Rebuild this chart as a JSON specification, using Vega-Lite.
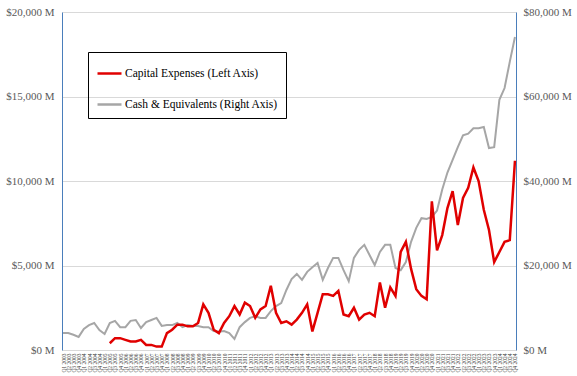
{
"$schema": "https://vega.github.io/schema/vega-lite/v6.json",
"width": 454, "height": 338,
"autosize": {"type": "none"},
"padding": {"left": 62, "top": 12, "right": 61, "bottom": 26},
"background": "white",
"config": {"font": "Liberation Serif", "view": {"stroke": null}},
"data": {"values": [
{"q":"Q1 2003","capex":null,"cash":4000},{"q":"Q2 2003","capex":null,"cash":4000},{"q":"Q3 2003","capex":null,"cash":3600},{"q":"Q4 2003","capex":null,"cash":3100},
{"q":"Q1 2004","capex":null,"cash":5000},{"q":"Q2 2004","capex":null,"cash":5900},{"q":"Q3 2004","capex":null,"cash":6400},{"q":"Q4 2004","capex":null,"cash":4700},
{"q":"Q1 2005","capex":null,"cash":3800},{"q":"Q2 2005","capex":400,"cash":6400},{"q":"Q3 2005","capex":700,"cash":6900},{"q":"Q4 2005","capex":700,"cash":5400},
{"q":"Q1 2006","capex":600,"cash":5400},{"q":"Q2 2006","capex":500,"cash":6900},{"q":"Q3 2006","capex":500,"cash":7100},{"q":"Q4 2006","capex":600,"cash":5200},
{"q":"Q1 2007","capex":300,"cash":6600},{"q":"Q2 2007","capex":300,"cash":7100},{"q":"Q3 2007","capex":200,"cash":7600},{"q":"Q4 2007","capex":200,"cash":5700},
{"q":"Q1 2008","capex":1000,"cash":5900},{"q":"Q2 2008","capex":1200,"cash":5900},{"q":"Q3 2008","capex":1500,"cash":6400},{"q":"Q4 2008","capex":1500,"cash":5400},
{"q":"Q1 2009","capex":1400,"cash":5900},{"q":"Q2 2009","capex":1400,"cash":5700},{"q":"Q3 2009","capex":1600,"cash":5700},{"q":"Q4 2009","capex":2700,"cash":5400},
{"q":"Q1 2010","capex":2200,"cash":5400},{"q":"Q2 2010","capex":1200,"cash":4500},{"q":"Q3 2010","capex":1000,"cash":4300},{"q":"Q4 2010","capex":1600,"cash":4500},
{"q":"Q1 2011","capex":2000,"cash":4000},{"q":"Q2 2011","capex":2600,"cash":2600},{"q":"Q3 2011","capex":2100,"cash":5400},{"q":"Q4 2011","capex":2800,"cash":6600},
{"q":"Q1 2012","capex":2600,"cash":7600},{"q":"Q2 2012","capex":1900,"cash":8000},{"q":"Q3 2012","capex":2400,"cash":7600},{"q":"Q4 2012","capex":2600,"cash":7600},
{"q":"Q1 2013","capex":3800,"cash":9200},{"q":"Q2 2013","capex":2200,"cash":10400},{"q":"Q3 2013","capex":1600,"cash":11100},{"q":"Q4 2013","capex":1700,"cash":14200},
{"q":"Q1 2014","capex":1500,"cash":16800},{"q":"Q2 2014","capex":1800,"cash":18000},{"q":"Q3 2014","capex":2200,"cash":16600},{"q":"Q4 2014","capex":2700,"cash":18500},
{"q":"Q1 2015","capex":1100,"cash":19600},{"q":"Q2 2015","capex":2200,"cash":20600},{"q":"Q3 2015","capex":3300,"cash":16600},{"q":"Q4 2015","capex":3300,"cash":19400},
{"q":"Q1 2016","capex":3200,"cash":21800},{"q":"Q2 2016","capex":3500,"cash":21800},{"q":"Q3 2016","capex":2100,"cash":18900},{"q":"Q4 2016","capex":2000,"cash":16300},
{"q":"Q1 2017","capex":2500,"cash":21800},{"q":"Q2 2017","capex":1800,"cash":23700},{"q":"Q3 2017","capex":2100,"cash":24900},{"q":"Q4 2017","capex":2200,"cash":22500},
{"q":"Q1 2018","capex":2000,"cash":20100},{"q":"Q2 2018","capex":4000,"cash":23200},{"q":"Q3 2018","capex":2500,"cash":24900},{"q":"Q4 2018","capex":3700,"cash":24900},
{"q":"Q1 2019","capex":3200,"cash":19400},{"q":"Q2 2019","capex":5800,"cash":18900},{"q":"Q3 2019","capex":6400,"cash":20800},{"q":"Q4 2019","capex":4800,"cash":25600},
{"q":"Q1 2020","capex":3600,"cash":28900},{"q":"Q2 2020","capex":3200,"cash":31200},{"q":"Q3 2020","capex":3000,"cash":31000},{"q":"Q4 2020","capex":8800,"cash":31500},
{"q":"Q1 2021","capex":5900,"cash":33000},{"q":"Q2 2021","capex":6800,"cash":38000},{"q":"Q3 2021","capex":8400,"cash":42000},{"q":"Q4 2021","capex":9400,"cash":45000},
{"q":"Q1 2022","capex":7400,"cash":48000},{"q":"Q2 2022","capex":9000,"cash":50800},{"q":"Q3 2022","capex":9600,"cash":51200},{"q":"Q4 2022","capex":10800,"cash":52500},
{"q":"Q1 2023","capex":10000,"cash":52500},{"q":"Q2 2023","capex":8300,"cash":52800},{"q":"Q3 2023","capex":7100,"cash":47800},{"q":"Q4 2023","capex":5200,"cash":48000},
{"q":"Q1 2024","capex":5800,"cash":59200},{"q":"Q2 2024","capex":6400,"cash":62000},{"q":"Q3 2024","capex":6500,"cash":68200},{"q":"Q4 2024","capex":11200,"cash":74100}
]},
"encoding": {
  "x": {"field": "q", "type": "ordinal", "sort": null,
        "scale": {"type": "point", "padding": 0.2},
        "axis": {"title": null, "labelAngle": -90, "labelFontSize": 5.5, "labelColor": "#404040",
                 "ticks": false, "domain": false, "labelPadding": 3, "labelOverlap": false, "labelFont": "Liberation Serif"}}
},
"layer": [
  {"mark": {"type": "line", "strokeWidth": 2},
   "encoding": {
     "y": {"field": "cash", "type": "quantitative", "scale": {"domain": [0, 80000]},
           "axis": {"orient": "right", "title": null, "values": [0, 20000, 40000, 60000, 80000],
                    "labelExpr": "'$' + format(datum.value, ',') + ' M'", "grid": false, "ticks": false,
                    "domainColor": "#4A7EBB", "domainWidth": 1, "labelFontSize": 11, "labelColor": "#595959", "labelPadding": 7}},
     "color": {"datum": "Cash & Equivalents (Right Axis)", "type": "nominal",
               "scale": {"domain": ["Capital Expenses (Left Axis)", "Cash & Equivalents (Right Axis)"], "range": ["#E00000", "#A6A6A6"]},
               "legend": {"title": null, "orient": "none", "legendX": 26, "legendY": 40, "direction": "vertical",
                          "strokeColor": "black", "padding": 8, "symbolType": "stroke", "symbolSize": 576, "symbolStrokeWidth": 2.5,
                          "labelFontSize": 11.5, "labelColor": "black", "labelFont": "Liberation Serif", "rowPadding": 12, "labelOffset": 2}}
   }},
  {"mark": {"type": "line", "strokeWidth": 2.5},
   "encoding": {
     "y": {"field": "capex", "type": "quantitative", "scale": {"domain": [0, 20000]},
           "axis": {"orient": "left", "title": null, "values": [0, 5000, 10000, 15000, 20000],
                    "labelExpr": "'$' + format(datum.value, ',') + ' M'", "grid": true, "gridColor": "#D9D9D9", "ticks": false,
                    "domainColor": "#4A7EBB", "domainWidth": 1, "labelFontSize": 11, "labelColor": "#595959", "labelPadding": 8}},
     "color": {"datum": "Capital Expenses (Left Axis)", "type": "nominal"}
   }}
],
"resolve": {"scale": {"y": "independent"}}
}
